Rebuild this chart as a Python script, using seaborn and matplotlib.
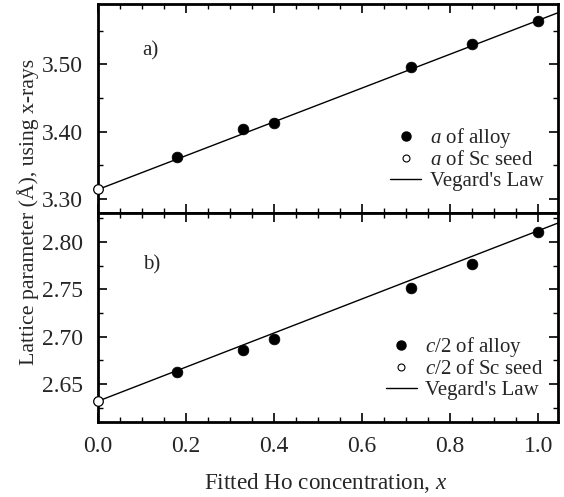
import numpy as np
import pandas as pd
import matplotlib
matplotlib.use("Agg")
import matplotlib.pyplot as plt
from matplotlib.ticker import MultipleLocator, FormatStrFormatter
from matplotlib.lines import Line2D
import seaborn as sns

# Fitted Ho concentration of the alloy films
ho_x = [0.18, 0.33, 0.40, 0.71, 0.85, 1.00]
# a lattice parameter (Å)
a_alloy = [3.363, 3.404, 3.413, 3.496, 3.530, 3.565]
a_seed_x = [0.0]
a_seed = [3.314]
# c/2 lattice parameter (Å)
c2_alloy = [2.663, 2.686, 2.698, 2.751, 2.777, 2.811]
c2_seed_x = [0.0]
c2_seed = [2.632]
# Vegard's law end points (pure Sc -> extended past pure Ho)
vegard_x = [0.0, 1.045]
vegard_a = [3.314, 3.577]
vegard_c2 = [2.632, 2.820]

sns.set_theme(style="ticks")
plt.rcParams["font.family"] = ["Liberation Serif", "DejaVu Serif"]
plt.rcParams["mathtext.fontset"] = "custom"
plt.rcParams["mathtext.it"] = "Liberation Serif:italic"
plt.rcParams["mathtext.rm"] = "Liberation Serif"

fig = plt.figure(figsize=(5.64, 4.97), dpi=100)
left, right = 98 / 564, 558 / 564
y_top, y_mid, y_bot = 1 - 4 / 497, 1 - 213 / 497, 1 - 422 / 497
ax1 = fig.add_axes([left, y_mid, right - left, y_top - y_mid])
ax2 = fig.add_axes([left, y_bot, right - left, y_mid - y_bot], sharex=ax1)

ms = 60


def panel(ax, vx, vy, sx, sy, ax_, ay):
    sns.lineplot(x=vx, y=vy, ax=ax, color="black", lw=1.0, legend=False)
    sns.scatterplot(x=ax_, y=ay, ax=ax, color="black", s=ms, edgecolor="black",
                    linewidth=0.5, zorder=3, legend=False)
    sns.scatterplot(x=sx, y=sy, ax=ax, facecolor="white", s=ms * 0.8,
                    edgecolor="black", linewidth=0.9, zorder=4, legend=False,
                    clip_on=False)


panel(ax1, vegard_x, vegard_a, a_seed_x, a_seed, ho_x, a_alloy)
panel(ax2, vegard_x, vegard_c2, c2_seed_x, c2_seed, ho_x, c2_alloy)

ax1.set_xlim(0, 1.045)
ax1.set_ylim(3.279, 3.590)
ax2.set_ylim(2.610, 2.8306)

ax1.yaxis.set_major_locator(MultipleLocator(0.10))
ax1.yaxis.set_minor_locator(MultipleLocator(0.05))
ax2.yaxis.set_major_locator(MultipleLocator(0.05))
ax2.yaxis.set_minor_locator(MultipleLocator(0.025))
ax2.xaxis.set_major_locator(MultipleLocator(0.2))
ax2.xaxis.set_minor_locator(MultipleLocator(0.05))

ax1.yaxis.set_major_formatter(FormatStrFormatter("%.2f"))
ax2.yaxis.set_major_formatter(FormatStrFormatter("%.2f"))
ax2.xaxis.set_major_formatter(FormatStrFormatter("%.1f"))

for ax in (ax1, ax2):
    for s in ax.spines.values():
        s.set_linewidth(2.0)
        s.set_color("black")
    ax.tick_params(which="both", direction="in", top=True, right=True,
                   color="black", labelsize=17)
    ax.tick_params(axis="y", which="both", pad=11)
    ax.tick_params(axis="x", which="both", pad=10)
    ax.tick_params(which="major", length=6.5, width=1.2)
    ax.tick_params(which="minor", length=3.5, width=1.0)
    ax.set_xlabel("")
    ax.set_ylabel("")
    ax.grid(False)
ax1.tick_params(labelbottom=False)

ax1.text(0.097, 0.755, "a)", transform=ax1.transAxes, fontsize=15)
ax2.text(0.097, 0.73, "b)", transform=ax2.transAxes, fontsize=15)

fig.text(0.05, 1 - 211.5 / 497, "Lattice parameter (Å), using x-rays",
         rotation=90, ha="center", va="center", fontsize=15.7)
fig.text((left + right) / 2 - 0.005, 1 - 483 / 497, "Fitted Ho concentration, $x$",
         ha="center", va="center", fontsize=16.7)


def legend_handles(label):
    return [
        Line2D([], [], ls="none", marker="o", color="black", ms=6.5,
               label="$a$ of alloy" if label == "a" else "$c$/2 of alloy"),
        Line2D([], [], ls="none", marker="o", mfc="white", mec="black",
               mew=0.8, ms=5,
               label="$a$ of Sc seed" if label == "a" else "$c$/2 of Sc seed"),
        Line2D([], [], color="black", lw=1.0, label="Vegard's Law"),
    ]


for ax, lab in ((ax1, "a"), (ax2, "c")):
    ax.legend(handles=legend_handles(lab), loc="lower right",
              bbox_to_anchor=(1.0, 0.035), frameon=False, fontsize=15,
              handlelength=1.5, handletextpad=0.4, labelspacing=0.05,
              borderaxespad=0.3)

fig.savefig("out.png", dpi=100)
